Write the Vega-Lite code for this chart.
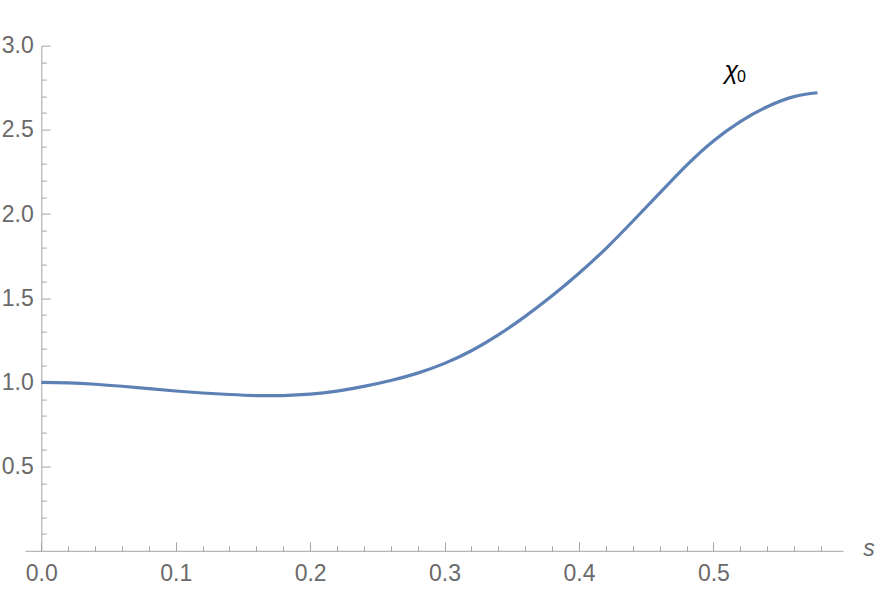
{
  "$schema": "https://vega.github.io/schema/vega-lite/v6.json",
  "autosize": {"type": "none"},
  "width": 818,
  "height": 505.2,
  "padding": {"left": 25, "top": 45.6, "right": 34, "bottom": 41.2},
  "background": "white",
  "config": {"view": {"stroke": null}},
  "datasets": {
    "curve": [
      {"s": 0.00, "chi": 1.000},
      {"s": 0.02, "chi": 0.997},
      {"s": 0.04, "chi": 0.989},
      {"s": 0.06, "chi": 0.977},
      {"s": 0.08, "chi": 0.963},
      {"s": 0.10, "chi": 0.949},
      {"s": 0.12, "chi": 0.937},
      {"s": 0.14, "chi": 0.928},
      {"s": 0.16, "chi": 0.922},
      {"s": 0.18, "chi": 0.922},
      {"s": 0.20, "chi": 0.930},
      {"s": 0.22, "chi": 0.948},
      {"s": 0.24, "chi": 0.976},
      {"s": 0.26, "chi": 1.011},
      {"s": 0.28, "chi": 1.055},
      {"s": 0.30, "chi": 1.113},
      {"s": 0.32, "chi": 1.188},
      {"s": 0.34, "chi": 1.282},
      {"s": 0.36, "chi": 1.392},
      {"s": 0.38, "chi": 1.514},
      {"s": 0.40, "chi": 1.648},
      {"s": 0.42, "chi": 1.795},
      {"s": 0.44, "chi": 1.957},
      {"s": 0.46, "chi": 2.124},
      {"s": 0.48, "chi": 2.289},
      {"s": 0.50, "chi": 2.434},
      {"s": 0.52, "chi": 2.549},
      {"s": 0.54, "chi": 2.637},
      {"s": 0.56, "chi": 2.697},
      {"s": 0.5774, "chi": 2.720}
    ],
    "labels": [
      {"s": 0.5176, "chi": 2.786, "greek": "χ", "sub": "0"}
    ]
  },
  "layer": [
    {
      "data": {"name": "curve"},
      "mark": {"type": "line", "color": "#5e81b5", "strokeWidth": 3.2, "interpolate": "natural", "clip": false},
      "encoding": {
        "x": {
          "field": "s", "type": "quantitative",
          "scale": {"domain": [-0.0121, 0.5964], "nice": false, "zero": false},
          "axis": {
            "orient": "bottom",
            "tickCount": 200,
            "values": [0, 0.02, 0.04, 0.06, 0.08, 0.1, 0.12, 0.14, 0.16, 0.18, 0.2, 0.22, 0.24, 0.26, 0.28, 0.3, 0.32, 0.34, 0.36, 0.38, 0.4, 0.42, 0.44, 0.46, 0.48, 0.5, 0.52, 0.54, 0.56, 0.58],
            "labelExpr": "abs(datum.value*10 - round(datum.value*10)) < 0.001 ? format(datum.value, '.1f') : ''",
            "tickSize": {"condition": {"test": "abs(datum.value*10 - round(datum.value*10)) < 0.001", "value": -9}, "value": -5},
            "tickColor": "#a6a6a6",
            "tickWidth": 1,
            "domainColor": "#a6a6a6",
            "domainWidth": 1,
            "grid": false,
            "labelFont": "Liberation Sans",
            "labelFontSize": 23,
            "labelColor": "#6a6a6a",
            "labelPadding": 21,
            "labelFlush": false,
            "labelOverlap": false,
            "title": "s",
            "titleFont": "Liberation Sans",
            "titleFontStyle": "italic",
            "titleFontWeight": "normal",
            "titleFontSize": 23,
            "titleColor": "#6a6a6a",
            "titleAlign": "center",
            "titleBaseline": "middle",
            "titleX": 843.5,
            "titleY": -2,
            "titleAnchor": null
          }
        },
        "y": {
          "field": "chi", "type": "quantitative",
          "scale": {"domain": [0, 3], "nice": false, "zero": false},
          "axis": {
            "orient": "left",
            "offset": -16.3,
            "tickCount": 200,
            "values": [0.1, 0.2, 0.3, 0.4, 0.5, 0.6, 0.7, 0.8, 0.9, 1.0, 1.1, 1.2, 1.3, 1.4, 1.5, 1.6, 1.7, 1.8, 1.9, 2.0, 2.1, 2.2, 2.3, 2.4, 2.5, 2.6, 2.7, 2.8, 2.9, 3.0],
            "labelExpr": "abs(datum.value*2 - round(datum.value*2)) < 0.001 ? format(datum.value, '.1f') : ''",
            "tickSize": {"condition": {"test": "abs(datum.value*2 - round(datum.value*2)) < 0.001", "value": -9}, "value": -5},
            "tickColor": "#a6a6a6",
            "tickWidth": 1,
            "domainColor": "#a6a6a6",
            "domainWidth": 1,
            "grid": false,
            "labelFont": "Liberation Sans",
            "labelFontSize": 23,
            "labelColor": "#6a6a6a",
            "labelPadding": 17,
            "labelFlush": false,
            "labelOverlap": false,
            "title": null
          }
        }
      }
    },
    {
      "data": {"name": "labels"},
      "mark": {"type": "text", "align": "right", "baseline": "alphabetic", "font": "Liberation Sans", "fontStyle": "italic", "fontSize": 25, "color": "#000000", "dy": -3, "dx": 1},
      "encoding": {
        "x": {"field": "s", "type": "quantitative"},
        "y": {"field": "chi", "type": "quantitative"},
        "text": {"field": "greek"}
      }
    },
    {
      "data": {"name": "labels"},
      "mark": {"type": "text", "align": "left", "baseline": "alphabetic", "font": "Liberation Sans", "fontSize": 16, "color": "#000000", "dx": 0},
      "encoding": {
        "x": {"field": "s", "type": "quantitative"},
        "y": {"field": "chi", "type": "quantitative"},
        "text": {"field": "sub"}
      }
    }
  ]
}
